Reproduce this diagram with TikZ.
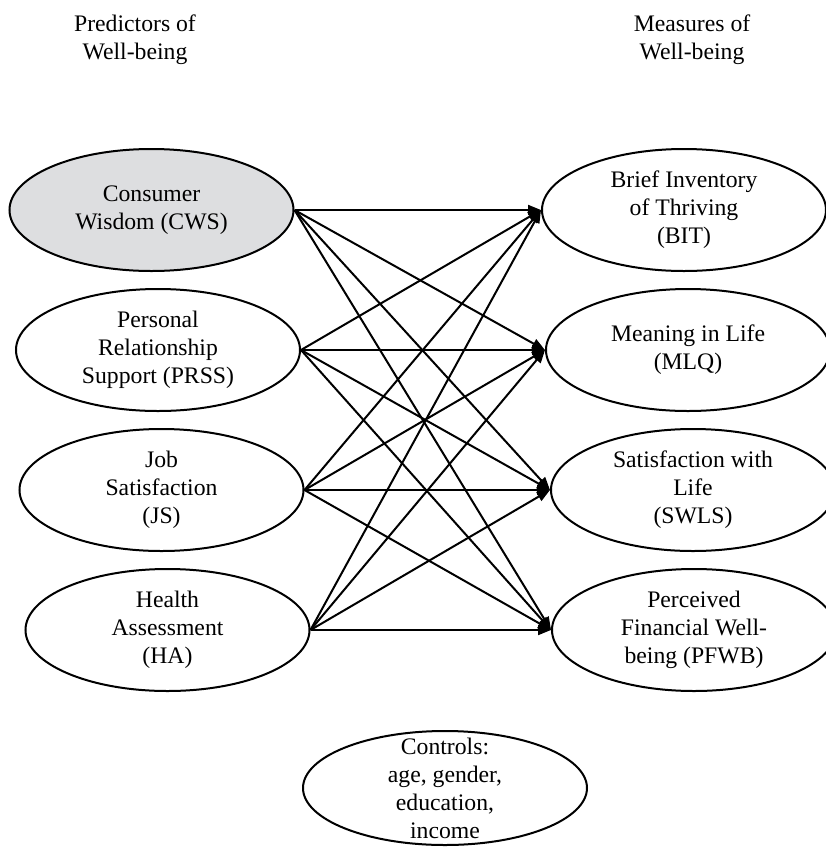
\documentclass[tikz,border=0pt]{standalone}
\usepackage{fontspec}
\setmainfont{Liberation Serif}
\usetikzlibrary{shapes.geometric,arrows.meta}
\definecolor{cwsgray}{RGB}{221,222,224}
\tikzset{oval/.style={draw, ellipse, line width=2pt, minimum width=284pt, minimum height=122pt, inner sep=0pt}}
\tikzset{txt/.style={align=center, inner sep=0pt, font=\fontsize{23.7}{28}\selectfont}}
\tikzset{link/.style={line width=2pt, -{Triangle[length=13pt,width=10pt]}}}

\begin{document}
\begin{tikzpicture}[x=1pt,y=-1pt]
  \clip (0,0) rectangle (826,847);
  % headings
  \node[txt] (lhead) at (135,40) {Predictors of\\Well-being};
  \node[txt] (rhead) at (692,40) {Measures of\\Well-being};
  % predictors
  \node[oval, fill=cwsgray] (CWS) at (151.5,210) {};
  \node[txt] (CWSt) at (CWS) {Consumer\\Wisdom (CWS)};
  \node[oval] (PRSS) at (158,350) {};
  \node[txt] (PRSSt) at (PRSS) {Personal\\Relationship\\Support (PRSS)};
  \node[oval] (JS) at (161.5,490) {};
  \node[txt] (JSt) at (JS) {Job\\Satisfaction\\(JS)};
  \node[oval] (HA) at (167.5,630) {};
  \node[txt] (HAt) at (HA) {Health\\Assessment\\(HA)};
  % measures
  \node[oval] (BIT) at (684,210) {};
  \node[txt] (BITt) at (BIT) {Brief Inventory\\of Thriving\\(BIT)};
  \node[oval] (MLQ) at (688,350) {};
  \node[txt] (MLQt) at (MLQ) {Meaning in Life\\(MLQ)};
  \node[oval] (SWLS) at (693,490) {};
  \node[txt] (SWLSt) at (SWLS) {Satisfaction with\\Life\\(SWLS)};
  \node[oval] (PFWB) at (694,630) {};
  \node[txt] (PFWBt) at (PFWB) {Perceived\\Financial Well-\\being (PFWB)};
  % controls
  \node[oval, minimum height=114pt] (CTL) at (445,788) {};
  \node[txt] (CTLt) at (CTL) {Controls:\\age, gender,\\education,\\income};
  % paths
  \path[link] (CWS.east) edge (BIT.west) edge (MLQ.west) edge (SWLS.west) edge (PFWB.west);
  \path[link] (PRSS.east) edge (BIT.west) edge (MLQ.west) edge (SWLS.west) edge (PFWB.west);
  \path[link] (JS.east) edge (BIT.west) edge (MLQ.west) edge (SWLS.west) edge (PFWB.west);
  \path[link] (HA.east) edge (BIT.west) edge (MLQ.west) edge (SWLS.west) edge (PFWB.west);
\end{tikzpicture}
\end{document}
